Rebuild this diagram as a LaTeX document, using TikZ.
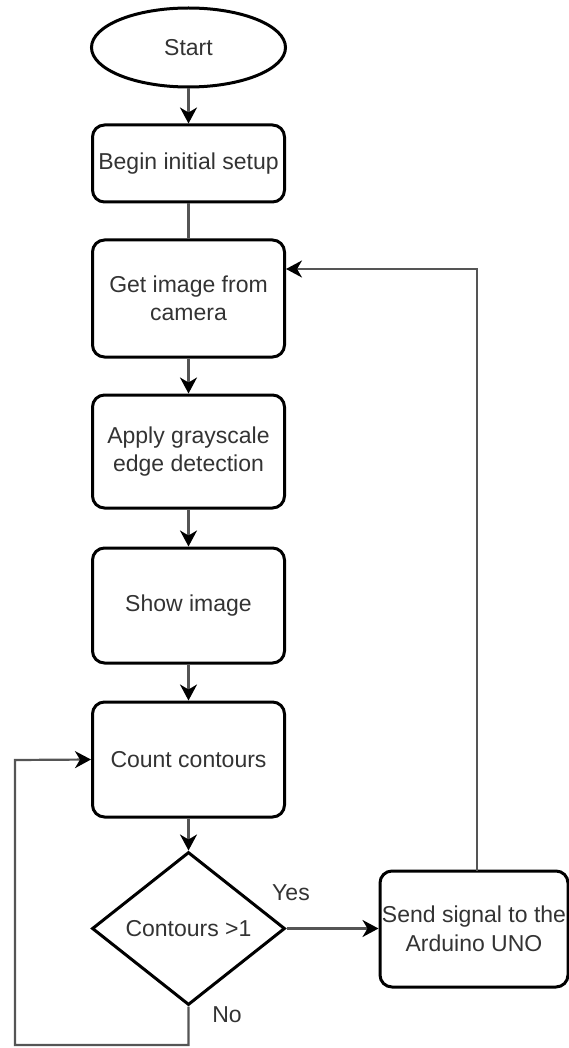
\documentclass[tikz,border=0pt]{standalone}
\usepackage{fontspec}
\setmainfont{Liberation Sans}
\usetikzlibrary{shapes.geometric,arrows.meta}
\definecolor{txt}{HTML}{333333}
\definecolor{conn}{HTML}{555555}
\begin{document}
\begin{tikzpicture}[x=1pt,y=-1pt,
  base/.style={draw=black,line width=3pt,text=txt,align=center,inner sep=0pt,
    font=\fontsize{23}{28.5}\selectfont},
  procbox/.style={base,rectangle,rounded corners=12pt,minimum width=192pt},
  termin/.style={base,ellipse,minimum width=194pt,minimum height=79pt},
  decis/.style={base,diamond,aspect=1.26,minimum width=193pt,minimum height=153pt},
  conline/.style={draw=conn,line width=2.2pt},
  arr/.style={conline,-{Stealth[length=16pt,width=17pt,inset=5pt,color=black,fill=black]}},
  lbl/.style={text=txt,font=\fontsize{23}{28.5}\selectfont,inner sep=0pt}]
\useasboundingbox (0,0) rectangle (569,1048);
\node[termin] (start) at (188.5,47.5) {Start};
\node[procbox,minimum height=77pt] (setup) at (188.5,163.5) {Begin initial setup};
\node[procbox,minimum height=117pt] (camera) at (188.5,298.5) {Get image from\\camera};
\node[procbox,minimum height=113pt] (gray) at (188.5,451.5) {Apply grayscale\\edge detection};
\node[procbox,minimum height=115pt] (show) at (188.5,605.5) {Show image};
\node[procbox,minimum height=115pt] (count) at (188.5,759.5) {Count contours};
\node[decis] (dec) at (188.5,928.5) {Contours >1};
\node[procbox,minimum width=188pt,minimum height=116pt] (send) at (474,929) {Send signal to the\\Arduino UNO};
\node[lbl] (yes) at (291,893) {Yes};
\node[lbl] (no) at (227,1015) {No};
\coordinate (sendtop) at (477,871);
\coordinate (rtop) at (477,269);
\coordinate (lbot) at (15,1045);
\coordinate (ltop) at (15,760);
\draw[arr] (start) -- (setup);
\draw[conline] (setup) -- (camera);
\draw[arr] (camera) -- (gray);
\draw[arr] (gray) -- (show);
\draw[arr] (show) -- (count);
\draw[arr] (count) -- (dec);
\draw[arr] (dec.east) -- (dec.east -| send.west);
\draw[arr] (sendtop) -- (rtop) -- (camera.east |- rtop);
\draw[arr] (dec.south) |- (lbot) -- (ltop) -- (count.west);
\end{tikzpicture}
\end{document}
